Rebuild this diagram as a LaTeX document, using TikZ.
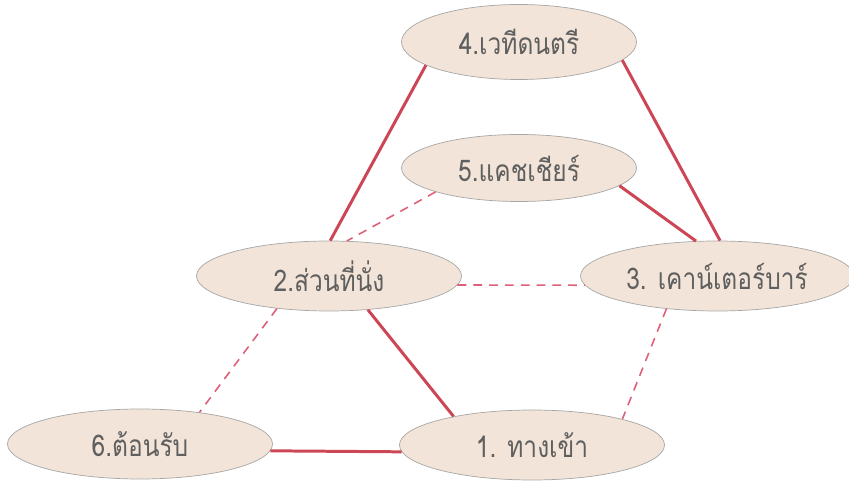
\documentclass[tikz,border=0pt]{standalone}
\usepackage{fontspec}
\newfontfamily\thaifont[Script=Thai,FakeStretch=0.82]{Loma}
\usetikzlibrary{shapes.geometric}
\definecolor{linkred}{RGB}{205,70,85}
\definecolor{dashred}{RGB}{222,95,120}
\definecolor{zonefill}{RGB}{242,228,216}
\definecolor{zonetext}{RGB}{95,95,95}

\begin{document}
\begin{tikzpicture}[
    zone/.style={ellipse, draw=gray!70, fill=zonefill, minimum width=4.7cm, minimum height=1.4cm, text=zonetext, font=\thaifont\fontsize{17}{20}\selectfont},
    link/.style={draw=linkred, line width=1.7pt},
    weaklink/.style={draw=dashred, line width=0.9pt, dash pattern=on 5pt off 4pt}
]
\useasboundingbox (0,0) rectangle (16.98,9.76);
\node[zone, minimum height=1.5cm] (stage) at (10.38,8.92) {4.เวทีดนตรี};
\node[zone, minimum height=1.34cm] (cashier) at (10.38,6.40) {5.แคชเชียร์};
\node[zone, minimum width=5.3cm] (seats) at (6.58,4.24) {2.ส่วนที่นั่ง};
\node[zone, minimum width=5.3cm] (bar) at (14.34,4.24) {3. เคาน์เตอร์บาร์};
\node[zone, minimum width=5.3cm] (reception) at (2.80,0.88) {6.ต้อนรับ};
\node[zone, minimum width=5.3cm] (entrance) at (10.64,0.86) {1. ทางเข้า};
\draw[link] (stage.194) -- (seats.88);
\draw[link] (stage.-10) -- (bar.85);
\draw[link] (cashier.-10) -- (bar.121);
\draw[weaklink] (cashier.196) -- (seats.63);
\draw[weaklink] (seats.-4) -- (bar.184);
\draw[link] (seats.-41) -- (entrance.160);
\draw[weaklink] (seats.212) -- (reception.28);
\draw[weaklink] (bar.213) -- (entrance.16);
\draw[link] (reception.-3) -- (entrance.183);
\end{tikzpicture}
\end{document}
